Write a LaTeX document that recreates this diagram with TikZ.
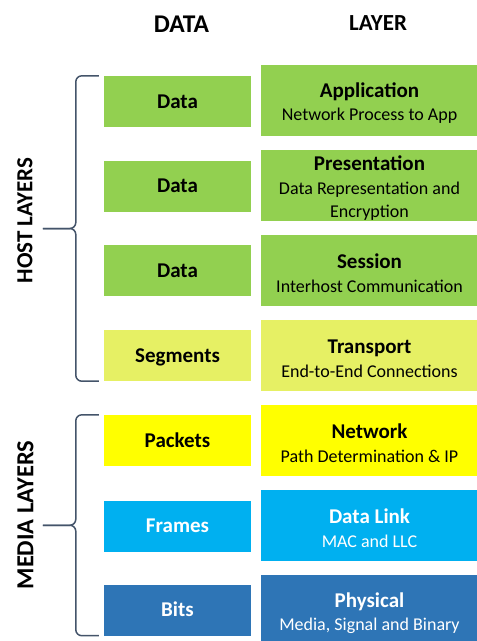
\documentclass[tikz,border=0pt]{standalone}
\usepackage{fontspec}
\setmainfont{Carlito}
\usepackage{xcolor}
\usetikzlibrary{positioning,calc}
\definecolor{hostgreen}{RGB}{146,208,80}
\definecolor{translime}{RGB}{230,240,100}
\definecolor{netyellow}{RGB}{255,255,0}
\definecolor{linkcyan}{RGB}{0,176,240}
\definecolor{physblue}{RGB}{46,117,182}
\definecolor{bracegray}{RGB}{68,84,106}
\tikzset{
    data box/.style={rectangle, minimum width=147, minimum height=51, inner sep=0pt,
        text height=14, text depth=1, font=\fontsize{21}{24}\selectfont\bfseries},
    layer box/.style={rectangle, minimum width=217, minimum height=71, inner sep=0pt,
        align=center, font=\fontsize{18}{23.5}\selectfont},
    green box/.style={fill=hostgreen, text=black},
    lime box/.style={fill=translime, text=black},
    yellow box/.style={fill=netyellow, text=black},
    cyan box/.style={fill=linkcyan, text=white},
    blue box/.style={fill=physblue, text=white},
    header/.style={font=\fontsize{25.5}{28}\selectfont\bfseries},
    group label/.style={rotate=90, font=\fontsize{23}{26}\selectfont\bfseries},
    brace line/.style={draw=bracegray, line width=1.5, rounded corners=6}
}
\newcommand{\layertitle}[1]{{\fontsize{21}{23.5}\selectfont\bfseries\rule{0pt}{20pt}#1}}

\begin{document}
\begin{tikzpicture}[x=1pt, y=-1pt]
    \useasboundingbox (0,0) rectangle (477,641);
    \clip (0,0) rectangle (477,641);

    % Column headers
    \node[header] (hdata) at (181.5,24) {DATA};
    \node[header, font=\fontsize{23}{26}\selectfont\bfseries] (hlayer) at (378,23) {LAYER};

    % Layer boxes (right column)
    \node[layer box, green box] (app) at (369.5,100.5) {\layertitle{Application}\\Network Process to App};
    \node[layer box, green box] (pres) at (369.5,185.5) {\layertitle{Presentation}\\Data Representation and\\Encryption};
    \node[layer box, green box] (sess) at (369.5,270.5) {\layertitle{Session}\\Interhost Communication};
    \node[layer box, lime box] (trans) at (369.5,355.5) {\layertitle{Transport}\\End-to-End Connections};
    \node[layer box, yellow box] (net) at (369.5,440.5) {\layertitle{Network}\\Path Determination \& IP};
    \node[layer box, cyan box] (link) at (369.5,525.5) {\layertitle{Data Link}\\MAC and LLC};
    \node[layer box, blue box] (phys) at (369.5,610.5) {\layertitle{Physical}\\Media, Signal and Binary};

    % Data units (left column)
    \node[data box, green box] (dat1) at (177.5,101.5) {Data};
    \node[data box, green box] (dat2) at (177.5,186) {Data};
    \node[data box, green box] (dat3) at (177.5,270.5) {Data};
    \node[data box, lime box] (seg) at (177.5,355.5) {Segments};
    \node[data box, yellow box] (pkt) at (177.5,440.5) {Packets};
    \node[data box, cyan box] (frm) at (177.5,526) {Frames};
    \node[data box, blue box] (bits) at (177.5,610) {Bits};

    % Braces
    \coordinate (hosttop) at ($(dat1.north west)+(-5,0)$);
    \coordinate (hostbot) at ($(seg.south west)+(-5,0)$);
    \coordinate (hosttip) at ($(hosttop)!0.5!(hostbot)+(-56,0)$);
    \draw[brace line] (hosttop) -| ($(hosttip)+(33,0)$) -- (hosttip);
    \draw[brace line] (hostbot) -| ($(hosttip)+(33,0)$) -- (hosttip);

    \coordinate (mediatop) at ($(pkt.north west)+(-5,0)$);
    \coordinate (mediabot) at ($(bits.south west)+(-5,0)$);
    \coordinate (mediatip) at ($(mediatop)!0.5!(mediabot)+(-56,0)$);
    \draw[brace line] (mediatop) -| ($(mediatip)+(33,0)$) -- (mediatip);
    \draw[brace line] (mediabot) -| ($(mediatip)+(33,0)$) -- (mediatip);

    % Group labels
    \node[group label] (host) at (25,220.5) {HOST LAYERS};
    \node[group label, font=\fontsize{24.5}{28}\selectfont\bfseries] (media) at (25.5,515) {MEDIA LAYERS};
\end{tikzpicture}
\end{document}
